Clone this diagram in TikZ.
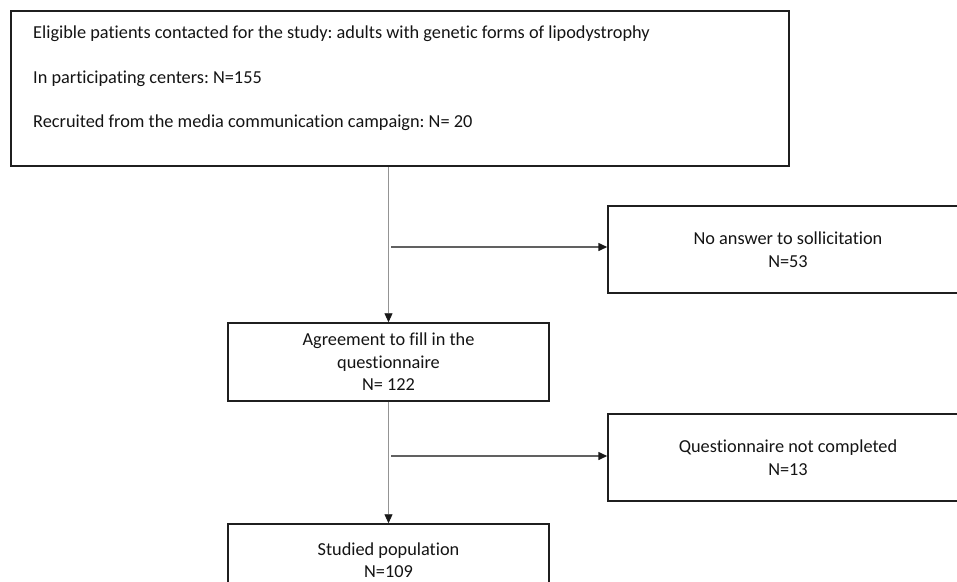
\documentclass[tikz,border=0pt]{standalone}
\usepackage{fontspec}
\setmainfont{Carlito}[Ligatures=NoCommon]
\usetikzlibrary{arrows.meta}
\tikzset{x=1pt, y=-1pt, every edge/.style={draw,
		-{Triangle[length=9pt,width=8pt,color=black!90]}}}
\tikzstyle{box}=[rectangle,draw=black!88,fill=white,line width=1.5pt,inner sep=0pt,align=center,text=black!92,font=\fontsize{18.3}{22.5}\selectfont]
\tikzstyle{bigText}=[inner sep=0pt,align=left,text=black!92,font=\fontsize{18.3}{44.5}\selectfont]
\tikzstyle{down}=[draw=black!42,line width=0.9pt]
\tikzstyle{side}=[draw=black!62,line width=1.5pt]

\begin{document}
\frenchspacing
\begin{tikzpicture}
		\path[use as bounding box] (0,0) rectangle (957,581);
		\clip (0,0) rectangle (957,581);
		\node at (400,88.5) [box,minimum width=778,minimum height=155] (elig) {};
		\node at (33,26) [bigText,anchor=north west] (eligText) {Eligible patients contacted for the study: adults with genetic forms of lipodystrophy\\
			In participating centers: N=155\\
			Recruited from the media communication campaign: N= 20};
		\node at (788,249.5) [box,minimum width=360,minimum height=87] (noans) {No answer to sollicitation\\N=53};
		\node at (388.5,362) [box,minimum width=321,minimum height=78] (agree) {Agreement to fill in the\\questionnaire\\N= 122};
		\node at (788,457.5) [box,minimum width=360,minimum height=87] (notdone) {Questionnaire not completed\\N=13};
		\node at (388.5,560) [box,minimum width=321,minimum height=72] (study) {Studied population\\N=109};
		\coordinate (b1) at (391,247);
		\coordinate (b2) at (391,456);
		\draw [down] (agree.north |- elig.south) edge (agree.north);
		\draw [down] (agree.south) edge (study.north);
		\draw [side] (b1) edge (b1 -| noans.west);
		\draw [side] (b2) edge (b2 -| notdone.west);
		\end{tikzpicture}
\end{document}
